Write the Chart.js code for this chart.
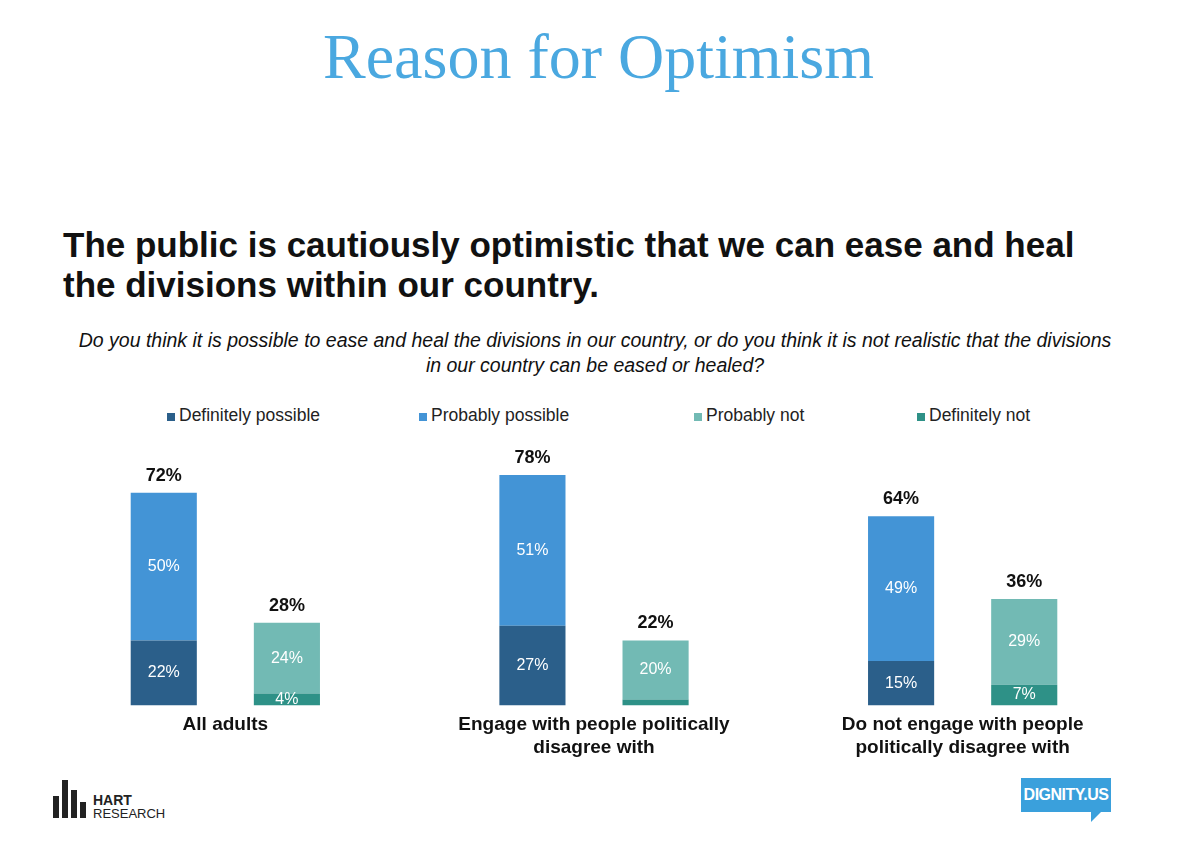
<!DOCTYPE html>
<html><head><meta charset="utf-8">
<script src="https://cdn.jsdelivr.net/npm/chart.js@4"></script>
<style>
body{margin:0;width:1197px;height:843px;background:#fff;position:relative;font-family:"Liberation Sans",Arial,sans-serif;overflow:hidden}
.t{position:absolute;left:0;width:1197px;text-align:center;top:20px;font-family:"Liberation Serif","DejaVu Serif",serif;font-size:64px;color:#4aa8e0}
.h{position:absolute;left:63px;top:225px;font-weight:bold;font-size:35px;line-height:40px;color:#111}
.s{position:absolute;left:0;width:1190px;text-align:center;top:328px;font-style:italic;font-size:19.5px;line-height:25px;color:#111}
.lg{position:absolute;top:405px;font-size:17.5px;color:#222}
.lg i{display:inline-block;width:8px;height:8px;margin-right:4px}
#wrap{position:absolute;left:41px;top:400px;width:1106px;height:359px}
.hart{position:absolute;left:53px;top:778px}
.dig{position:absolute;left:1021px;top:778px;width:90px;height:34px;background:#3aa0dc;color:#fff;font-weight:bold;font-size:16px;letter-spacing:-0.5px;line-height:34px;text-align:center;font-family:"Liberation Sans Narrow","Liberation Sans",sans-serif}
.dig:after{content:"";position:absolute;left:70px;top:34px;border-left:10px solid #3aa0dc;border-bottom:10px solid transparent}
</style></head><body>
<div class="t">Reason for Optimism</div>
<div class="h">The public is cautiously optimistic that we can ease and heal<br>the divisions within our country.</div>
<div class="s">Do you think it is possible to ease and heal the divisions in our country, or do you think it is not realistic that the divisions<br>in our country can be eased or healed?</div>
<div class="lg" style="left:167px"><i style="background:#2b5f8a"></i>Definitely possible</div>
<div class="lg" style="left:419px"><i style="background:#4394d6"></i>Probably possible</div>
<div class="lg" style="left:694px"><i style="background:#72bab4"></i>Probably not</div>
<div class="lg" style="left:917px"><i style="background:#2e9187"></i>Definitely not</div>
<div id="wrap"><canvas id="c"></canvas></div>
<div class="hart">
<svg width="120" height="42"><rect x="0" y="18" width="6" height="22" fill="#222"/><rect x="9" y="2" width="6" height="38" fill="#222"/><rect x="18" y="12" width="6" height="28" fill="#222"/><rect x="27" y="24" width="6" height="16" fill="#222"/>
<text x="40" y="27" font-size="14" font-weight="bold" fill="#222" font-family="Liberation Sans">HART</text>
<text x="40" y="40" font-size="13" fill="#222" font-family="Liberation Sans">RESEARCH</text></svg></div>
<div class="dig">DIGNITY.US</div>
<script>
const categories = [['All adults'], ['Engage with people politically', 'disagree with'], ['Do not engage with people', 'politically disagree with']];
const definitelyPossible = [22, 27, 15];
const probablyPossible = [50, 51, 49];
const probablyNot = [24, 20, 29];
const definitelyNot = [4, 2, 7];
const totalPossible = [72, 78, 64];
const totalNot = [28, 22, 36];

const labelPlugin = {
  id: 'labels',
  afterDatasetsDraw(chart) {
    const ctx = chart.ctx;
    ctx.save();
    ctx.textAlign = 'center';
    ctx.textBaseline = 'middle';
    chart.data.datasets.forEach((ds, di) => {
      chart.getDatasetMeta(di).data.forEach((bar, i) => {
        const v = ds.data[i];
        if (v < 4) return;
        ctx.fillStyle = '#fff';
        ctx.font = '16px "Liberation Sans", Arial';
        ctx.fillText(v + '%', bar.x, (bar.y + bar.base) / 2);
      });
    });
    ctx.fillStyle = '#111';
    ctx.font = 'bold 18px "Liberation Sans", Arial';
    [[1, totalPossible], [3, totalNot]].forEach(([di, tot]) => {
      chart.getDatasetMeta(di).data.forEach((bar, i) => {
        ctx.fillText(tot[i] + '%', bar.x, bar.y - 17);
      });
    });
    ctx.restore();
  }
};

new Chart(document.getElementById('c'), {
  type: 'bar',
  data: {
    labels: categories,
    datasets: [
      { label: 'Definitely possible', data: definitelyPossible, backgroundColor: '#2b5f8a', stack: 'p' },
      { label: 'Probably possible', data: probablyPossible, backgroundColor: '#4394d6', stack: 'p' },
      { label: 'Definitely not', data: definitelyNot, backgroundColor: '#2e9187', stack: 'n' },
      { label: 'Probably not', data: probablyNot, backgroundColor: '#72bab4', stack: 'n' }
    ]
  },
  options: {
    responsive: true,
    maintainAspectRatio: false,
    animation: false,
    categoryPercentage: 0.668,
    barPercentage: 0.537,
    layout: { padding: { top: 10 } },
    plugins: { legend: { display: false }, tooltip: { enabled: false } },
    scales: {
      x: {
        stacked: true,
        grid: { display: false },
        border: { display: false },
        ticks: { color: '#111', font: { size: 19, weight: 'bold', family: '"Liberation Sans", Arial' }, padding: 0 }
      },
      y: { stacked: true, display: false, min: 0, max: 100 }
    }
  },
  plugins: [labelPlugin]
});
</script>
</body></html>
